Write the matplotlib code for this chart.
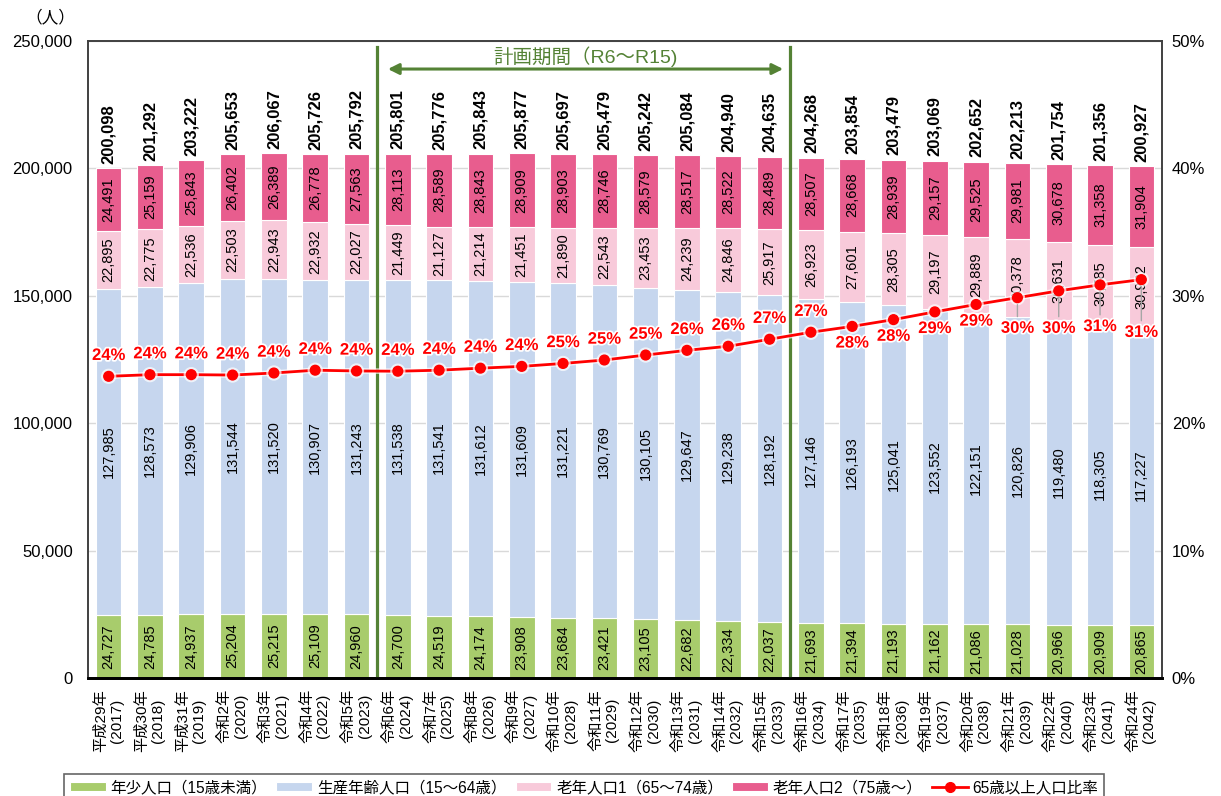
import matplotlib
matplotlib.use('Agg')
import matplotlib.pyplot as plt
import matplotlib.patheffects as pe
from matplotlib.lines import Line2D
from matplotlib.ticker import FuncFormatter, MultipleLocator

plt.rcParams['font.family'] = ['Liberation Sans', 'Noto Sans CJK JP', 'DejaVu Sans']

ERAS = ['平成29年', '平成30年', '平成31年', '令和2年', '令和3年', '令和4年', '令和5年',
        '令和6年', '令和7年', '令和8年', '令和9年', '令和10年', '令和11年', '令和12年',
        '令和13年', '令和14年', '令和15年', '令和16年', '令和17年', '令和18年', '令和19年',
        '令和20年', '令和21年', '令和22年', '令和23年', '令和24年']
YEARS = list(range(2017, 2043))

YOUNG = [24727, 24785, 24937, 25204, 25215, 25109, 24960, 24700, 24519, 24174, 23908, 23684, 23421,
         23105, 22682, 22334, 22037, 21693, 21394, 21193, 21162, 21086, 21028, 20966, 20909, 20865]
WORKING = [127985, 128573, 129906, 131544, 131520, 130907, 131243, 131538, 131541, 131612, 131609,
           131221, 130769, 130105, 129647, 129238, 128192, 127146, 126193, 125041, 123552, 122151,
           120826, 119480, 118305, 117227]
OLD1 = [22895, 22775, 22536, 22503, 22943, 22932, 22027, 21449, 21127, 21214, 21451, 21890, 22543,
        23453, 24239, 24846, 25917, 26923, 27601, 28305, 29197, 29889, 30378, 30631, 30785, 30932]
OLD2 = [24491, 25159, 25843, 26402, 26389, 26778, 27563, 28113, 28589, 28843, 28909, 28903, 28746,
        28579, 28517, 28522, 28489, 28507, 28668, 28939, 29157, 29525, 29981, 30678, 31358, 31904]
TOTAL = [200098, 201292, 203222, 205653, 206067, 205726, 205792, 205801, 205776, 205843, 205877,
         205697, 205479, 205242, 205084, 204940, 204635, 204268, 203854, 203479, 203069, 202652,
         202213, 201754, 201356, 200927]
RATIO = [0.2368, 0.2381, 0.2381, 0.2378, 0.2394, 0.2416, 0.2410, 0.2408, 0.2416, 0.2432, 0.2446,
         0.2469, 0.2496, 0.2535, 0.2572, 0.2604, 0.2659, 0.2714, 0.2760, 0.2813, 0.2874, 0.2932,
         0.2985, 0.3039, 0.3086, 0.3127]

SERIES_NAMES = ['年少人口（15歳未満）', '生産年齢人口（15～64歳）', '老年人口1（65～74歳）',
                '老年人口2（75歳～）', '65歳以上人口比率']

COLORS = ['#A8CC6C', '#C6D6EE', '#F8CADA', '#E85D8E']
RED = '#FF0000'
GREEN = '#548235'

# label offsets of the ratio labels (points): above the marker first, then pulled below
LABEL_DY = [15] * 18 + [-12, -12, -12, -12, -22, -27, -30, -38]

W, H = 1221, 796
fig = plt.figure(figsize=(W / 100, H / 100), dpi=100)
ax = fig.add_axes([88 / W, 1 - 678 / H, (1162 - 88) / W, (678 - 41) / H])

x = list(range(len(YEARS)))
bottom = [0] * len(x)
containers = []
for vals, color in zip([YOUNG, WORKING, OLD1, OLD2], COLORS):
    bars = ax.bar(x, vals, 0.62, bottom=bottom, color=color, edgecolor='white', linewidth=0.8, zorder=2)
    containers.append(bars)
    for i, v in enumerate(vals):
        ax.text(i, bottom[i] + v / 2, f'{v:,}', rotation=90, ha='center', va='center',
                fontsize=10.5, zorder=3)
    bottom = [b + v for b, v in zip(bottom, vals)]

for i, t in enumerate(TOTAL):
    ax.annotate(f'{t:,}', xy=(i, bottom[i]), xytext=(0, 3), textcoords='offset points',
                rotation=90, ha='center', va='bottom', fontsize=12, fontweight='bold')

ax.set_xlim(-0.5, len(x) - 0.5)
ax.set_ylim(0, 250000)
ax.yaxis.set_major_locator(MultipleLocator(50000))
ax.yaxis.set_major_formatter(FuncFormatter(lambda v, p: f'{v:,.0f}'))
ax.yaxis.grid(True, color='#D9D9D9', lw=1)
ax.set_axisbelow(True)
ax.tick_params(axis='y', length=0, pad=11, labelsize=12)
ax.set_xticks(x)
ax.set_xticklabels([f'{e}\n({y})' for e, y in zip(ERAS, YEARS)], rotation=90,
                   fontsize=11, multialignment='center')
ax.tick_params(axis='x', length=0, pad=8)

# plan period
for xv in (6.5, 16.5):
    ax.axvline(xv, ymin=0, ymax=0.99, color=GREEN, lw=2.3, zorder=4)
ax.annotate('', xy=(16.33, 239000), xytext=(6.76, 239000),
            arrowprops=dict(arrowstyle='<|-|>', color=GREEN, lw=2.2, mutation_scale=16,
                            shrinkA=0, shrinkB=0))
ax.text(11.55, 244000, '計画期間（R6～R15)', ha='center', va='center', fontsize=14, color=GREEN)

ax2 = ax.twinx()
ax2.set_ylim(0, 0.5)
ax2.yaxis.set_major_locator(MultipleLocator(0.1))
ax2.yaxis.set_major_formatter(FuncFormatter(lambda v, p: f'{v * 100:.0f}%'))
ax2.tick_params(axis='y', length=0, pad=7, labelsize=12)
ax2.plot(x, RATIO, color=RED, lw=2, marker='o', ms=7, zorder=5,
         path_effects=[pe.withStroke(linewidth=4, foreground='white', alpha=0.7)])

for i, r in enumerate(RATIO):
    dy = LABEL_DY[i]
    props = None
    if dy < -20:
        props = dict(arrowstyle='-', color='#A6A6A6', lw=1, shrinkA=1, shrinkB=5)
    ax2.annotate(f'{r * 100:.0f}%', xy=(i, r), xytext=(0, dy), textcoords='offset points',
                 ha='center', va='center', fontsize=12, fontweight='bold', color=RED,
                 arrowprops=props, zorder=6,
                 path_effects=[pe.withStroke(linewidth=2.5, foreground='white')])

for a in (ax, ax2):
    for s in ('top', 'left', 'right'):
        a.spines[s].set_color('#404040')
        a.spines[s].set_linewidth(1.2)
    a.spines['bottom'].set_color('#000000')
    a.spines['bottom'].set_linewidth(2)

fig.text(50 / W, 1 - 17 / H, '（人）', ha='center', va='center', fontsize=12)

line_handle = Line2D([], [], color=RED, lw=2, marker='o', ms=7)
leg = fig.legend(containers + [line_handle], SERIES_NAMES, loc='upper center',
                 bbox_to_anchor=(584 / W, 1 - 766 / H), ncol=5, fontsize=11.2,
                 frameon=True, fancybox=False, edgecolor='#404040', handlelength=2.3,
                 handleheight=0.5, columnspacing=0.6, handletextpad=0.3, borderpad=0.4)
leg.get_frame().set_linewidth(1.2)

fig.savefig('out.png', dpi=100)
